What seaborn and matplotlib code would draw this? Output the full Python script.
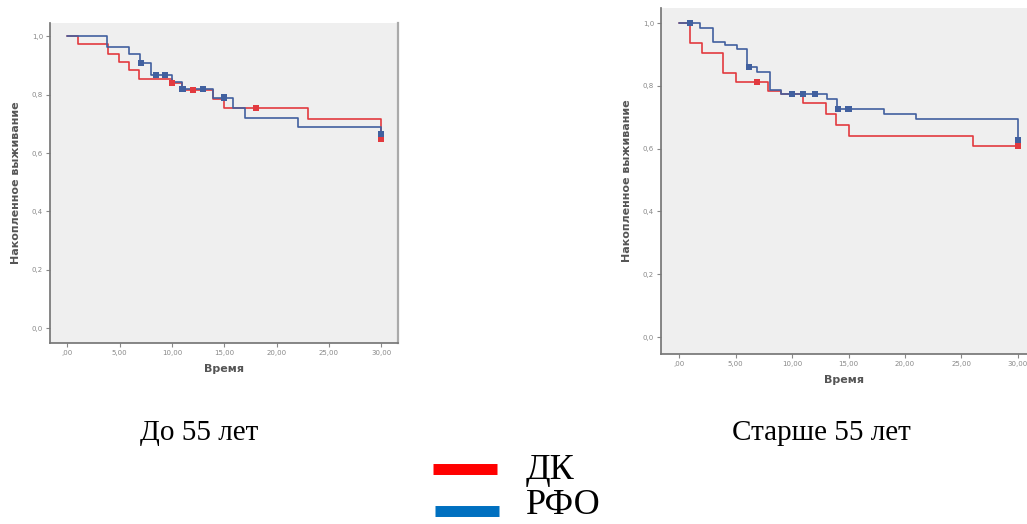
import pandas as pd
import numpy as np
import matplotlib
matplotlib.use("Agg")
import matplotlib.pyplot as plt
from matplotlib.lines import Line2D
import seaborn as sns

sns.set_theme(style="white")
plt.rcParams['font.family'] = ['DejaVu Sans']

# ---- данные: кривые Каплана-Мейера ----
# До 55 лет
dk_young_t = [0, 1, 3.9, 4.9, 5.9, 6.8, 10, 11, 13.9, 15, 23, 30]
dk_young_s = [1.0, 0.973, 0.94, 0.912, 0.884, 0.853, 0.84, 0.815, 0.785, 0.753, 0.716, 0.65]
dk_young_cens_t = [10, 12, 18, 30]
dk_young_cens_s = [0.84, 0.815, 0.753, 0.65]

rfo_young_t = [0, 3.8, 5.9, 6.9, 8, 10, 11, 13.9, 15.8, 17, 22, 30]
rfo_young_s = [1.0, 0.963, 0.94, 0.907, 0.867, 0.844, 0.82, 0.79, 0.753, 0.72, 0.69, 0.665]
rfo_young_cens_t = [7, 8.5, 9.3, 11, 13, 15, 30]
rfo_young_cens_s = [0.907, 0.867, 0.867, 0.82, 0.82, 0.79, 0.665]

# Старше 55 лет
dk_old_t = [0, 1, 2, 3.9, 5, 7.9, 9, 11, 13, 13.9, 15, 26, 30]
dk_old_s = [1.0, 0.937, 0.905, 0.842, 0.813, 0.784, 0.775, 0.746, 0.71, 0.675, 0.64, 0.608, 0.608]
dk_old_cens_t = [6.9, 30]
dk_old_cens_s = [0.813, 0.608]

rfo_old_t = [0, 1.85, 3, 4.07, 5.1, 6, 6.9, 8.05, 9, 13.1, 14, 18.1, 21, 30]
rfo_old_s = [1.0, 0.983, 0.94, 0.93, 0.916, 0.861, 0.845, 0.787, 0.775, 0.757, 0.727, 0.709, 0.693, 0.627]
rfo_old_cens_t = [1, 6.2, 10, 11, 12, 14.1, 15, 30]
rfo_old_cens_s = [1.0, 0.861, 0.775, 0.775, 0.775, 0.727, 0.727, 0.627]

groups = ['ДК', 'РФО']
panel_titles = ['До 55 лет', 'Старше 55 лет']
x_ticks = [0, 5, 10, 15, 20, 25, 30]
x_ticklabels = [',00', '5,00', '10,00', '15,00', '20,00', '25,00', '30,00']
y_ticks = [0.0, 0.2, 0.4, 0.6, 0.8, 1.0]
y_ticklabels = ['0,0', '0,2', '0,4', '0,6', '0,8', '1,0']

line_colors = {'ДК': '#e23a3f', 'РФО': '#41609f'}
legend_colors = {'ДК': '#ff0000', 'РФО': '#0070c0'}


def make_df(t_dk, s_dk, t_rfo, s_rfo):
    return pd.concat([
        pd.DataFrame({'t': t_dk, 's': s_dk, 'g': 'ДК'}),
        pd.DataFrame({'t': t_rfo, 's': s_rfo, 'g': 'РФО'}),
    ], ignore_index=True)


curves = [
    make_df(dk_young_t, dk_young_s, rfo_young_t, rfo_young_s),
    make_df(dk_old_t, dk_old_s, rfo_old_t, rfo_old_s),
]
censors = [
    make_df(dk_young_cens_t, dk_young_cens_s, rfo_young_cens_t, rfo_young_cens_s),
    make_df(dk_old_cens_t, dk_old_cens_s, rfo_old_cens_t, rfo_old_cens_s),
]

fig = plt.figure(figsize=(10.27, 5.24), dpi=100)
ax_pos = [
    [50 / 1027, 1 - 343 / 524, 348 / 1027, 320 / 524],
    [661 / 1027, 1 - 354 / 524, 366 / 1027, 346 / 524],
]
xlims = [(-1.66, 31.6), (-1.6, 30.8)]
ylims = [(-0.05, 1.045), (-0.054, 1.048)]

for i in range(2):
    ax = fig.add_axes(ax_pos[i])
    ax.set_facecolor('#efefef')
    sns.lineplot(data=curves[i], x='t', y='s', hue='g', palette=line_colors,
                 estimator=None, sort=False, drawstyle='steps-post',
                 linewidth=1.2, legend=False, ax=ax)
    sns.scatterplot(data=censors[i], x='t', y='s', hue='g', palette=line_colors,
                    marker='s', s=20, edgecolor='none', legend=False, ax=ax, zorder=5)
    ax.set_xlim(*xlims[i])
    ax.set_ylim(*ylims[i])
    ax.set_xticks(x_ticks)
    ax.set_xticklabels(x_ticklabels)
    ax.set_yticks(y_ticks)
    ax.set_yticklabels(y_ticklabels)
    ax.tick_params(axis='both', labelsize=5, colors='#888888', length=3, width=0.8,
                   direction='out', left=True, bottom=True, pad=2)
    ax.set_xlabel('Время', fontsize=8, fontweight='bold', color='#555555', labelpad=6)
    ax.set_ylabel('Накопленное выживание', fontsize=8, fontweight='bold', color='#555555', labelpad=8)
    ax.spines['top'].set_visible(False)
    ax.spines['left'].set_color('#777777')
    ax.spines['bottom'].set_color('#777777')
    if i == 0:
        ax.spines['right'].set_color('#aaaaaa')
        ax.spines['right'].set_linewidth(1.6)
    else:
        ax.spines['right'].set_visible(False)

# подписи панелей
serif = ['Liberation Serif', 'DejaVu Serif']
fig.text(199 / 1027, 1 - 440 / 524, panel_titles[0], fontsize=21, family=serif,
         ha='center', va='baseline', color='black')
fig.text(821 / 1027, 1 - 440 / 524, panel_titles[1], fontsize=21, family=serif,
         ha='center', va='baseline', color='black')

# легенда
leg_y = [469, 510.5]
leg_x = [(433, 497), (435, 499)]
leg_base = [479, 514]
for k, g in enumerate(groups):
    fig.add_artist(Line2D([leg_x[k][0] / 1027, leg_x[k][1] / 1027],
                          [1 - leg_y[k] / 524, 1 - leg_y[k] / 524],
                          color=legend_colors[g], linewidth=7.9, solid_capstyle='butt'))
    fig.text(526 / 1027, 1 - leg_base[k] / 524, g, fontsize=26, family=serif,
             ha='left', va='baseline', color='black')

plt.savefig('out.png', dpi=100)
